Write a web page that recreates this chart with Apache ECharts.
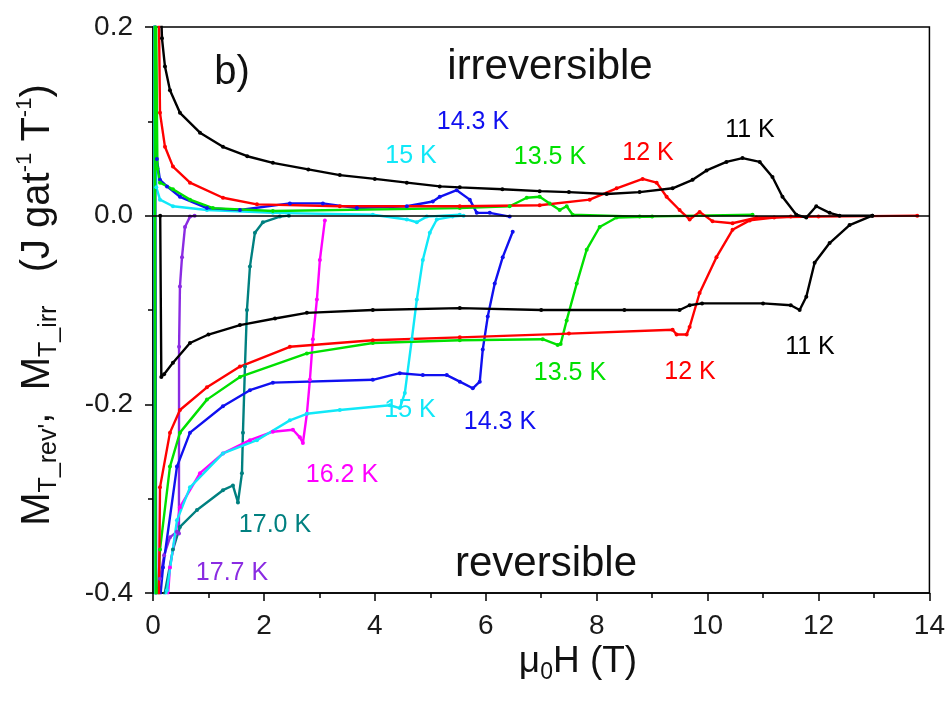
<!DOCTYPE html>
<html>
<head>
<meta charset="utf-8">
<script src="https://cdn.jsdelivr.net/npm/echarts@6/dist/echarts.min.js"></script>
<style>
  html, body { margin: 0; padding: 0; background: #fff; }
  #chart { width: 948px; height: 705px; }
</style>
</head>
<body>
<div id="chart"></div>
<script>
// ---- Data (field in T, magnetisation in J gat^-1 T^-1) ----
const xTicks = [0, 2, 4, 6, 8, 10, 12, 14];
const yTicks = [-0.4, -0.2, 0.0, 0.2];

const irr11 = [[0.15,0.21],[0.162,0.188],[0.216,0.158],[0.306,0.133],[0.486,0.109],[0.847,0.088],[1.261,0.073],[1.7,0.063],[2.162,0.056],[2.8,0.049],[3.369,0.043],[4.0,0.039],[4.577,0.035],[5.171,0.031],[5.532,0.030],[6.3,0.028],[6.973,0.026],[7.5,0.025],[8.180,0.023],[8.775,0.025],[9.369,0.029],[9.730,0.038],[9.982,0.048],[10.34,0.057],[10.63,0.061],[10.94,0.057],[11.17,0.041],[11.35,0.020],[11.60,0.001],[11.78,-0.002],[11.96,0.010],[12.20,0.003],[12.38,0.0],[12.97,0.0]];
const rev11 = [[0.13,0.0],[0.15,-0.171],[0.2,-0.168],[0.36,-0.156],[0.667,-0.135],[1.0,-0.126],[1.568,-0.116],[2.2,-0.109],[2.775,-0.103],[3.964,-0.100],[5.532,-0.098],[7.0,-0.100],[8.5,-0.100],[9.495,-0.100],[9.676,-0.095],[9.9,-0.093],[11.0,-0.093],[11.5,-0.095],[11.66,-0.100],[11.78,-0.086],[11.93,-0.050],[12.20,-0.029],[12.56,-0.010],[12.97,0.0]];

const irr12 = [[0.10,0.25],[0.126,0.109],[0.216,0.073],[0.36,0.052],[0.667,0.035],[1.261,0.019],[1.874,0.012],[3.369,0.010],[5.532,0.010],[6.973,0.011],[7.874,0.017],[8.360,0.029],[8.829,0.039],[9.081,0.035],[9.261,0.020],[9.495,0.006],[9.676,-0.004],[9.856,0.004],[10.09,-0.006],[10.45,-0.008],[10.88,-0.002],[12.0,-0.001],[13.78,0.0]];
const rev12 = [[0.10,-0.45],[0.126,-0.288],[0.306,-0.230],[0.486,-0.206],[0.973,-0.182],[1.568,-0.160],[2.468,-0.139],[3.964,-0.132],[5.532,-0.129],[7.5,-0.125],[9.369,-0.121],[9.441,-0.126],[9.622,-0.126],[9.676,-0.118],[9.856,-0.082],[10.16,-0.044],[10.45,-0.015],[10.76,-0.005],[11.2,-0.002],[11.5,-0.001]];

const irr135 = [[0.05,0.25],[0.08,0.05],[0.126,0.035],[0.36,0.028],[0.667,0.017],[1.081,0.008],[2.162,0.005],[5.532,0.008],[6.432,0.010],[6.739,0.019],[6.973,0.020],[7.153,0.013],[7.333,0.006],[7.459,0.010],[7.568,0.001],[8.775,-0.001],[10.81,0.001]];
const rev135 = [[0.03,0.25],[0.05,-0.45],[0.126,-0.354],[0.306,-0.266],[0.486,-0.230],[0.973,-0.195],[1.568,-0.171],[2.775,-0.146],[3.964,-0.135],[5.532,-0.132],[7.027,-0.131],[7.297,-0.137],[7.35,-0.136],[7.459,-0.111],[7.640,-0.072],[7.820,-0.036],[8.054,-0.012],[8.360,-0.002],[9.0,-0.001]];

const irr143 = [[0.04,0.25],[0.07,0.06],[0.126,0.038],[0.252,0.031],[0.486,0.020],[0.973,0.008],[1.568,0.006],[2.468,0.013],[3.063,0.013],[3.676,0.008],[4.577,0.010],[5.045,0.015],[5.171,0.020],[5.477,0.027],[5.712,0.017],[5.838,0.003],[6.072,0.003],[6.432,-0.001]];
const rev143 = [[0.03,0.25],[0.06,-0.45],[0.18,-0.373],[0.432,-0.266],[0.667,-0.230],[1.261,-0.202],[1.748,-0.185],[2.162,-0.177],[3.964,-0.174],[4.45,-0.167],[4.865,-0.169],[5.297,-0.169],[5.532,-0.176],[5.766,-0.183],[5.892,-0.176],[5.946,-0.142],[6.036,-0.107],[6.162,-0.072],[6.306,-0.044],[6.486,-0.017]];

const irr15 = [[0.02,0.25],[0.06,0.03],[0.126,0.017],[0.36,0.010],[0.973,0.006],[2.162,0.003],[3.964,0.001],[4.577,-0.004],[4.757,-0.007],[4.937,-0.001],[5.532,0.001]];
const rev15 = [[0.02,0.25],[0.04,-0.45],[0.252,-0.397],[0.432,-0.323],[0.667,-0.288],[1.261,-0.252],[1.874,-0.238],[2.468,-0.217],[2.775,-0.210],[3.369,-0.206],[4.270,-0.201],[4.450,-0.204],[4.541,-0.188],[4.667,-0.131],[4.757,-0.089],[4.865,-0.047],[4.991,-0.018],[5.117,-0.004],[5.4,-0.001],[5.6,0.0]];

const rev162 = [[0.25,-0.42],[0.306,-0.373],[0.486,-0.309],[0.847,-0.273],[1.261,-0.252],[1.748,-0.238],[2.162,-0.229],[2.523,-0.227],[2.649,-0.235],[2.703,-0.241],[2.775,-0.210],[2.829,-0.174],[2.883,-0.131],[2.955,-0.089],[3.009,-0.047],[3.099,-0.005]];

const rev170 = [[0.03,0.25],[0.05,-0.45],[0.36,-0.354],[0.486,-0.330],[0.793,-0.312],[1.261,-0.291],[1.441,-0.286],[1.532,-0.304],[1.604,-0.273],[1.622,-0.230],[1.658,-0.160],[1.694,-0.100],[1.748,-0.054],[1.838,-0.018],[1.982,-0.007],[2.288,-0.001],[2.45,0.0]];

const rev177 = [[0.126,-0.385],[0.2,-0.36],[0.306,-0.341],[0.43,-0.335],[0.468,-0.337],[0.47,-0.139],[0.486,-0.075],[0.523,-0.044],[0.577,-0.012],[0.667,-0.001],[0.75,0.0]];

// ---- Styling ----
const FONT = 'Liberation Sans, Arial, Helvetica, sans-serif';
const C = {
  k11: '#000000', k12: '#ff0000', k135: '#00e000', k143: '#1010f0',
  k15: '#10e8f8', k162: '#ff00ff', k170: '#008080', k177: '#8a2be2'
};

function curve(data, color, z) {
  return {
    type: 'line', data: data, color: color, clip: true,
    symbol: 'circle', symbolSize: 4, showSymbol: true,
    lineStyle: { width: 2.4, color: color },
    itemStyle: { color: color },
    z: z || 2, animation: false, silent: true
  };
}

const series = [
  curve(rev177, C.k177), curve(rev170, C.k170), curve(rev162, C.k162),
  curve(rev15, C.k15), curve(irr15, C.k15),
  curve(rev143, C.k143), curve(irr143, C.k143),
  curve(rev135, C.k135), curve(irr135, C.k135),
  curve(rev12, C.k12), curve(irr12, C.k12),
  curve(rev11, C.k11, 3), curve(irr11, C.k11, 3)
];
series[0].markLine = {
  silent: true, symbol: 'none', animation: false,
  label: { show: false },
  lineStyle: { color: '#000', width: 1.5, type: 'solid' },
  data: [{ yAxis: 0 }]
};

const labels = [
  ['14.3 K', C.k143, 473, 122], ['15 K', C.k15, 411, 156], ['13.5 K', C.k135, 550, 157],
  ['12 K', C.k12, 648, 153], ['11 K', C.k11, 750, 130],
  ['11 K', C.k11, 810, 347], ['12 K', C.k12, 690, 372], ['13.5 K', C.k135, 570, 373],
  ['14.3 K', C.k143, 500, 422], ['15 K', C.k15, 410, 410], ['16.2 K', C.k162, 342, 475],
  ['17.0 K', C.k170, 275, 525], ['17.7 K', C.k177, 232, 573]
];

const graphics = labels.map(function (l) {
  return { type: 'text', x: l[2], y: l[3], silent: true,
    style: { text: l[0], fill: l[1], font: '25px ' + FONT, align: 'center', verticalAlign: 'middle' } };
});
graphics.push({ type: 'text', x: 232, y: 73, silent: true,
  style: { text: 'b)', fill: '#111', font: '40px ' + FONT, align: 'center', verticalAlign: 'middle' } });
graphics.push({ type: 'text', x: 550, y: 67, silent: true,
  style: { text: 'irreversible', fill: '#111', font: '42px ' + FONT, align: 'center', verticalAlign: 'middle' } });
graphics.push({ type: 'text', x: 546, y: 564, silent: true,
  style: { text: 'reversible', fill: '#111', font: '42px ' + FONT, align: 'center', verticalAlign: 'middle' } });

// y-axis title (rotated)
graphics.push({ type: 'text', x: 38, y: 305, rotation: Math.PI / 2, silent: true,
  style: {
    text: '{m|M}{sb|T_rev\'}{m|,  M}{sb|T_irr}{m|   (J gat}{sp|-1}{m| T}{sp|-1}{m|)}',
    align: 'center', verticalAlign: 'middle', fill: '#111', fontFamily: FONT,
    rich: {
      m: { fontSize: 40, lineHeight: 48, fontFamily: FONT, fill: '#111', verticalAlign: 'middle' },
      sb: { fontSize: 25, lineHeight: 24, fontFamily: FONT, fill: '#111', verticalAlign: 'bottom' },
      sp: { fontSize: 22, lineHeight: 22, fontFamily: FONT, fill: '#111', verticalAlign: 'top' }
    }
  } });
// x-axis title
graphics.push({ type: 'text', x: 578, y: 662, silent: true,
  style: {
    text: '{m|\u03bc}{sb|0}{m|H (T)}',
    align: 'center', verticalAlign: 'middle', fill: '#111', fontFamily: FONT,
    rich: {
      m: { fontSize: 37, lineHeight: 44, fontFamily: FONT, fill: '#111', verticalAlign: 'middle' },
      sb: { fontSize: 23, lineHeight: 22, fontFamily: FONT, fill: '#111', verticalAlign: 'bottom' }
    }
  } });

const chart = echarts.init(document.getElementById('chart'), null, { renderer: 'canvas' });
chart.setOption({
  animation: false,
  backgroundColor: '#ffffff',
  grid: { left: 153, right: 18, top: 27, bottom: 112, show: true, borderColor: '#000', borderWidth: 1.5, backgroundColor: 'transparent' },
  xAxis: {
    type: 'value', min: xTicks[0], max: xTicks[xTicks.length - 1], interval: 2,
    axisLine: { show: true, onZero: false, lineStyle: { color: '#000', width: 1.5 } },
    axisTick: { show: true, inside: false, length: 8, lineStyle: { color: '#000', width: 1.5 } },
    minorTick: { show: true, splitNumber: 2, length: 5, lineStyle: { color: '#000', width: 1.5 } },
    splitLine: { show: false },
    axisLabel: { color: '#1a1a1a', fontSize: 28, fontFamily: FONT, margin: 19 }
  },
  yAxis: {
    type: 'value', min: yTicks[0], max: yTicks[yTicks.length - 1], interval: 0.2,
    axisLine: { show: true, onZero: false, lineStyle: { color: '#000', width: 1.5 } },
    axisTick: { show: true, inside: false, length: 8, lineStyle: { color: '#000', width: 1.5 } },
    minorTick: { show: true, splitNumber: 2, length: 5, lineStyle: { color: '#000', width: 1.5 } },
    splitLine: { show: false },
    axisLabel: { color: '#1a1a1a', fontSize: 28, fontFamily: FONT, margin: 20,
      formatter: function (v) { return v.toFixed(1); } }
  },
  graphic: graphics,
  series: series
});
</script>
</body>
</html>
